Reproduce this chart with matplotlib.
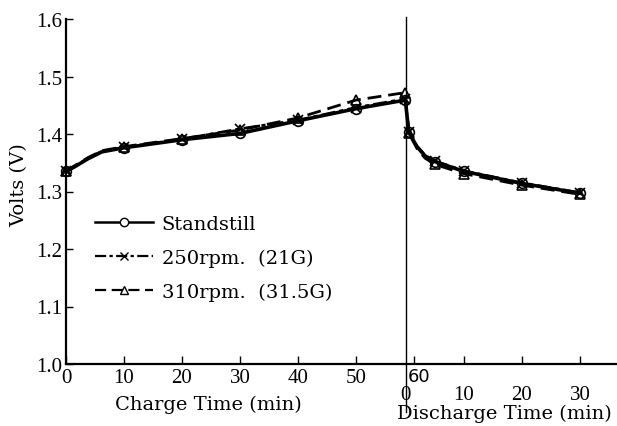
import matplotlib
matplotlib.use("Agg")
import matplotlib.pyplot as plt
from matplotlib.lines import Line2D

plt.rcParams['font.family'] = ['Liberation Serif', 'DejaVu Serif']
TXT = ['DejaVu Serif', 'Liberation Serif']

# ---- data ----
charge_end = 58.6                      # discharge starts here (charge-axis minutes)
charge_time = [0, 1.5, 3.8, 6.2, 10, 20, 30, 40, 50, 58.5]
charge_marked = [0, 4, 5, 6, 7, 8, 9]
stand_charge = [1.335, 1.343, 1.357, 1.369, 1.376, 1.390, 1.401, 1.423, 1.444, 1.459]
rpm250_charge = [1.335, 1.344, 1.358, 1.370, 1.377, 1.391, 1.409, 1.424, 1.446, 1.461]
rpm310_charge = [1.336, 1.345, 1.359, 1.371, 1.378, 1.392, 1.407, 1.428, 1.459, 1.472]

discharge_time = [0.5, 1.9, 3.3, 5, 10, 20, 30]
discharge_marked = [0, 3, 4, 5, 6]
stand_dis = [1.403, 1.378, 1.362, 1.352, 1.335, 1.314, 1.297]
rpm250_dis = [1.404, 1.379, 1.363, 1.353, 1.336, 1.315, 1.298]
rpm310_dis = [1.402, 1.375, 1.358, 1.347, 1.331, 1.311, 1.295]

labels = ['Standstill', '250rpm.  (21G)', '310rpm.  (31.5G)']
charge_ticks = [0, 10, 20, 30, 40, 50]
discharge_ticks = [0, 10, 20, 30]
y_ticks = [1.0, 1.1, 1.2, 1.3, 1.4, 1.5, 1.6]

fig = plt.figure(figsize=(6.17, 4.27), dpi=100)
ax = fig.add_axes([66/617, 1-365/427, 1-66/617, 345/427])

styles = [
    dict(lw=2.6, marker='o', dashes=None),
    dict(lw=2.0, marker='x', dashes=(5, 1.5, 1.5, 1.5)),
    dict(lw=2.0, marker='^', dashes=(5, 2.5)),
]
series = [(stand_charge, stand_dis), (rpm250_charge, rpm250_dis), (rpm310_charge, rpm310_dis)]

n_c = len(charge_time)
marks = charge_marked + [n_c + i for i in discharge_marked]
for (ch, dis), st in zip(series, styles):
    xs = list(charge_time) + [charge_end + t for t in discharge_time]
    ys = list(ch) + list(dis)
    line, = ax.plot(xs, ys, color='black', lw=st['lw'], marker=st['marker'],
                    markevery=marks, markersize=7, markerfacecolor='none',
                    markeredgecolor='black', markeredgewidth=1.2, clip_on=False)
    if st['dashes'] is not None:
        line.set_dashes(st['dashes'])

ax.set_xlim(0, 95)
ax.set_ylim(1.0, 1.6)
for s in ['top', 'right']:
    ax.spines[s].set_visible(False)
ax.spines['left'].set_linewidth(1.6)
ax.spines['bottom'].set_linewidth(1.6)

ax.set_yticks(y_ticks)
ax.set_yticklabels([f'{v:.1f}' for v in y_ticks], fontsize=15)
ax.tick_params(axis='y', direction='in', length=5, width=1.0, pad=3)

xt = charge_ticks + [60] + [charge_end + t for t in discharge_ticks[1:]]
ax.set_xticks(xt)
ax.set_xticklabels([str(t) for t in charge_ticks] + [''] * (len(xt) - len(charge_ticks)),
                   fontsize=15)
ax.tick_params(axis='x', direction='in', length=6, width=1.0, pad=3)

trans = ax.get_xaxis_transform()
ax.text(charge_end + 0.3, -0.008, '60', transform=trans, ha='left', va='top',
        fontsize=13, family=['DejaVu Sans'])
for t in discharge_ticks:
    ax.text(charge_end + t, -0.06, str(t), transform=trans, ha='center', va='top',
            fontsize=15)

# vertical separator
ax.plot([charge_end, charge_end], [-0.14, 1.006], transform=trans, color='black',
        lw=1.0, clip_on=False)

ax.text(24.5, -0.09, 'Charge Time (min)', transform=trans,
        ha='center', va='top', fontsize=14, family=TXT)
ax.text(charge_end + 17.0, -0.115, 'Discharge Time (min)', transform=trans,
        ha='center', va='top', fontsize=14, family=TXT)
ax.set_ylabel('Volts (V)', fontsize=14, family=TXT)
ax.yaxis.set_label_coords(-0.068, 0.52)

handles = []
for st in styles:
    h = Line2D([], [], color='black', lw=1.8 if st['dashes'] is None else 1.6,
               marker=st['marker'], markersize=6, markerfacecolor='white',
               markeredgecolor='black', markeredgewidth=1.0)
    if st['dashes'] is not None:
        h.set_dashes(st['dashes'])
    handles.append(h)
ax.legend(handles, labels, loc='upper left', bbox_to_anchor=(0.052, 0.433),
          frameon=False, prop={'family': TXT, 'size': 14}, handlelength=3.0,
          handletextpad=0.45, labelspacing=0.82, borderpad=0, borderaxespad=0)

fig.savefig('out.png', dpi=100)
